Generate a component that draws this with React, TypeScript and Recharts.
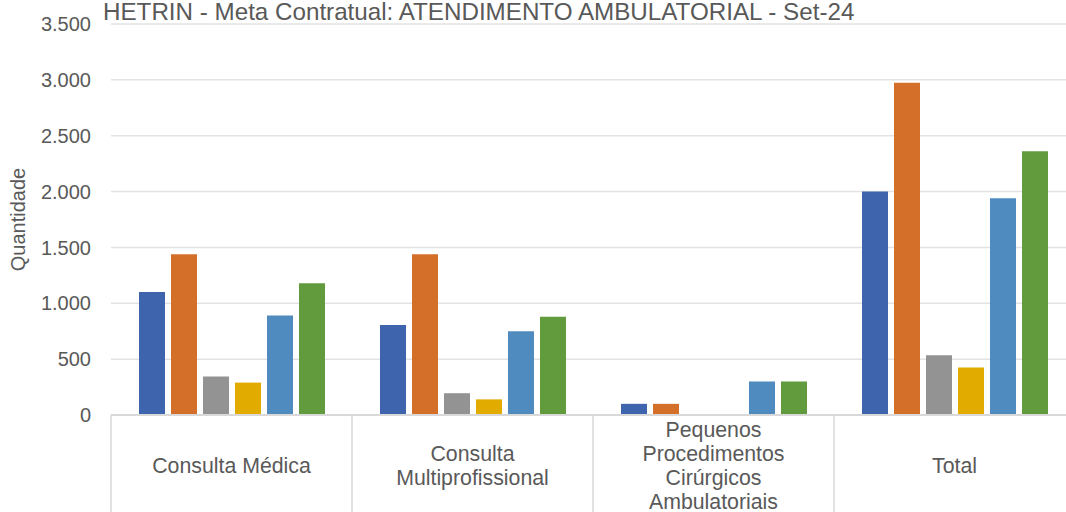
import React from 'react';
import { BarChart, Bar, XAxis, YAxis, CartesianGrid } from 'recharts';

const categories = [
  'Consulta Médica',
  'Consulta Multiprofissional',
  'Pequenos Procedimentos Cirúrgicos Ambulatoriais',
  'Total'
];

// how each category label wraps under the axis
const categoryLines: string[][] = [
  ['Consulta Médica'],
  ['Consulta', 'Multiprofissional'],
  ['Pequenos', 'Procedimentos', 'Cirúrgicos', 'Ambulatoriais'],
  ['Total']
];

const serie1 = [1100, 805, 100, 2000];
const serie2 = [1440, 1440, 100, 2975];
const serie3 = [345, 195, 0, 535];
const serie4 = [290, 140, 0, 425];
const serie5 = [890, 750, 300, 1940];
const serie6 = [1180, 880, 300, 2360];

const yTicks = [0, 500, 1000, 1500, 2000, 2500, 3000, 3500];

const colors = ['#3E64AD', '#D46F2A', '#939393', '#E2AB00', '#4F8BBE', '#629A3E'];

const data = categories.map((name, i) => ({
  name,
  s1: serie1[i],
  s2: serie2[i],
  s3: serie3[i],
  s4: serie4[i],
  s5: serie5[i],
  s6: serie6[i]
}));

const CHART_W = 1090;
const CHART_H = 530;
const Y_AXIS_W = 111;
const MARGIN_RIGHT = 15;
const HALF_BAND = (CHART_W - Y_AXIS_W - MARGIN_RIGHT) / categories.length / 2;
const TEXT = '#595959';
const LINE = '#D9D9D9';
const FONT = "'Liberation Sans', Arial, sans-serif";

const formatNumber = (v: number) =>
  String(v).replace(/\B(?=(\d{3})+(?!\d))/g, '.');

type TickProps = {
  x?: number;
  y?: number;
  index?: number;
  payload?: { value: string; index?: number };
};

const CategoryTick = ({ x = 0, y = 0, index = 0, payload }: TickProps) => {
  const idx = categories.indexOf(payload?.value ?? '');
  const lines = categoryLines[idx >= 0 ? idx : index] ?? [payload?.value ?? ''];
  const lineH = 24;
  const centerY = y + 51;
  const startY = centerY - ((lines.length - 1) * lineH) / 2;
  return (
    <g>
      <line x1={x - HALF_BAND} y1={y} x2={x - HALF_BAND} y2={y + 120} stroke={LINE} strokeWidth={1.5} />
      {idx === categories.length - 1 && (
        <line x1={x + HALF_BAND} y1={y} x2={x + HALF_BAND} y2={y + 120} stroke={LINE} strokeWidth={1.5} />
      )}
      <text
        x={x}
        y={startY}
        textAnchor="middle"
        dominantBaseline="central"
        fill={TEXT}
        fontSize={21.3}
        fontFamily={FONT}
      >
        {lines.map((l, i) => (
          <tspan key={i} x={x} y={startY + i * lineH}>
            {l}
          </tspan>
        ))}
      </text>
    </g>
  );
};

export default function App() {
  return (
    <div
      style={{
        position: 'absolute',
        left: 0,
        top: 0,
        width: 1066,
        height: 512,
        overflow: 'hidden',
        background: '#fff',
        fontFamily: FONT
      }}
    >
      <BarChart
        width={CHART_W}
        height={CHART_H}
        data={data}
        margin={{ top: 24, right: MARGIN_RIGHT, left: 0, bottom: 0 }}
        barCategoryGap={28}
        barGap={6}
      >
        <CartesianGrid vertical={false} stroke="#E3E3E3" strokeWidth={1.5} />
        <XAxis
          dataKey="name"
          height={115}
          interval={0}
          tickLine={false}
          tickSize={0}
          tickMargin={0}
          axisLine={{ stroke: LINE, strokeWidth: 2 }}
          tick={<CategoryTick />}
        />
        <YAxis
          width={Y_AXIS_W}
          domain={[0, 3500]}
          ticks={yTicks}
          interval={0}
          axisLine={false}
          tickLine={false}
          tickMargin={14}
          tickFormatter={formatNumber}
          tick={{ fill: TEXT, fontSize: 20, fontFamily: FONT }}
          label={{
            value: 'Quantidade',
            angle: -90,
            position: 'insideLeft',
            offset: 18,
            fill: TEXT,
            fontSize: 20,
            textAnchor: 'middle'
          }}
        />
        <Bar dataKey="s1" fill={colors[0]} isAnimationActive={false} />
        <Bar dataKey="s2" fill={colors[1]} isAnimationActive={false} />
        <Bar dataKey="s3" fill={colors[2]} isAnimationActive={false} />
        <Bar dataKey="s4" fill={colors[3]} isAnimationActive={false} />
        <Bar dataKey="s5" fill={colors[4]} isAnimationActive={false} />
        <Bar dataKey="s6" fill={colors[5]} isAnimationActive={false} />
      </BarChart>
      <svg
        width={1066}
        height={40}
        style={{ position: 'absolute', left: 0, top: 0, pointerEvents: 'none' }}
      >
        <text x={103} y={20} fill={TEXT} fontSize={24.2} fontFamily={FONT}>
          HETRIN - Meta Contratual: ATENDIMENTO AMBULATORIAL - Set-24
        </text>
      </svg>
    </div>
  );
}
